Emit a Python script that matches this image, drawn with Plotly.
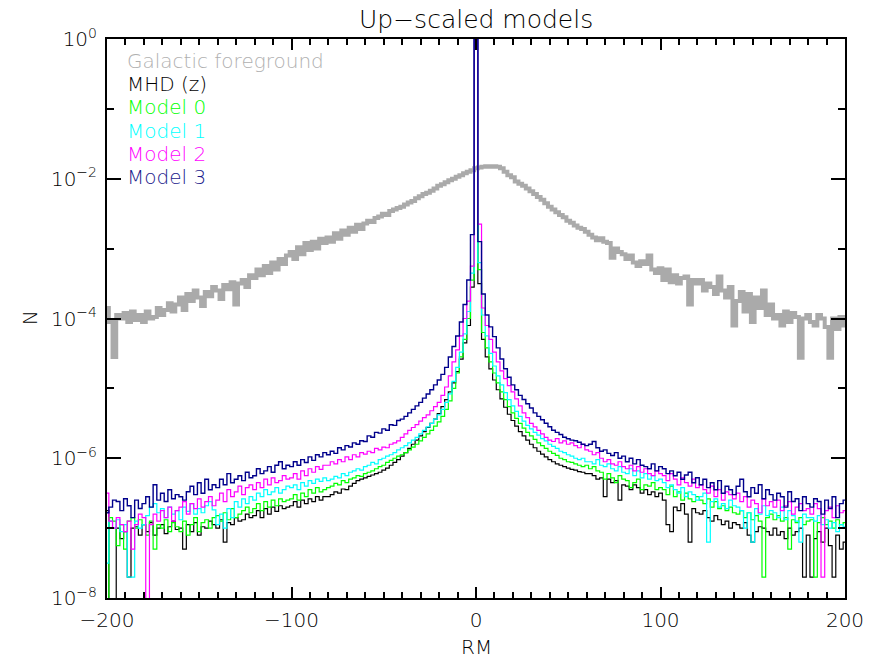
import plotly.graph_objects as go

# Histogram bin centres (RM, rad m^-2), bin width 2
rm_centres = list(range(-200, 201, 2))

# log10 of the normalised counts N in each bin
log10_n_foreground = [
    -3.85, -4.05, -4.55, -3.95, -4.0, -3.92, -4.05, -3.9, -4.02, -3.95,
    -4.05, -3.9, -4.0, -3.98, -3.85, -3.95, -3.88, -3.78, -3.9, -3.8,
    -3.7, -3.88, -3.65, -3.75, -3.6, -3.7, -3.82, -3.62, -3.68, -3.55,
    -3.6, -3.72, -3.52, -3.58, -3.48, -3.8, -3.5, -3.45, -3.55, -3.38,
    -3.42, -3.3, -3.38, -3.25, -3.35, -3.2, -3.3, -3.15, -3.22, -3.1,
    -3.05, -3.15, -2.98, -3.08, -2.92, -3.02, -2.9, -3.0, -2.86, -2.92,
    -2.84, -2.9, -2.78, -2.86, -2.74, -2.8, -2.7, -2.76, -2.66, -2.72,
    -2.64, -2.6, -2.62, -2.56, -2.54, -2.5, -2.52, -2.46, -2.44, -2.42,
    -2.4, -2.37, -2.34, -2.32, -2.28, -2.25, -2.22, -2.2, -2.17, -2.14,
    -2.1, -2.08, -2.05, -2.02, -2.0, -1.97, -1.95, -1.92, -1.9, -1.88,
    -1.85,
    -1.84, -1.83, -1.82, -1.83, -1.82, -1.83, -1.85, -1.9, -1.95, -1.98,
    -2.04, -2.07, -2.1, -2.14, -2.18, -2.22, -2.26, -2.3, -2.35, -2.4,
    -2.44, -2.48, -2.52, -2.55, -2.6, -2.63, -2.67, -2.7, -2.72, -2.76,
    -2.8, -2.84, -2.88, -2.85, -2.9, -2.92, -3.13, -3.0, -3.05, -3.08,
    -3.15, -3.1, -3.2, -3.25, -3.18, -3.22, -3.1, -3.3, -3.35, -3.28,
    -3.45, -3.3, -3.48, -3.38, -3.5, -3.42, -3.4, -3.8, -3.45, -3.5,
    -3.45, -3.6, -3.5, -3.55, -3.65, -3.4, -3.6, -3.7, -3.55, -4.1,
    -3.75, -3.62, -3.9, -3.65, -4.05, -3.7, -3.85, -3.6, -3.95, -3.8,
    -4.0, -3.95, -4.1, -3.9, -4.05, -3.92, -3.98, -4.56, -4.0, -3.95,
    -4.05, -4.1, -3.95, -4.0, -4.12, -4.56, -4.0, -4.15, -3.98, -4.1,
]

log10_n_mhd = [
    -6.75, -8.5, -8.5, -7.0, -7.15, -7.05, -7.7, -7.0, -6.98, -7.1,
    -6.95, -7.05, -6.92, -7.1, -7.0, -6.95, -7.08, -6.98, -6.9, -7.02,
    -7.0, -7.3, -6.95, -7.05, -6.92, -7.1, -6.98, -7.0, -6.9, -6.95,
    -7.0, -6.88, -7.2, -6.92, -6.95, -6.85, -6.9, -6.88, -6.8, -6.85,
    -6.82, -6.75, -6.85, -6.72, -6.8, -6.7, -6.76, -6.68, -6.72, -6.7,
    -6.68, -6.62, -6.7, -6.6, -6.65, -6.58, -6.62, -6.55, -6.6, -6.55,
    -6.55, -6.52, -6.48, -6.5, -6.44, -6.45, -6.4, -6.36, -6.32, -6.3,
    -6.28, -6.26, -6.24, -6.22, -6.2, -6.17, -6.14, -6.1, -6.06, -6.02,
    -5.97, -5.92, -5.86, -5.8, -5.74, -5.68, -5.62, -5.56, -5.5, -5.44,
    -5.36, -5.26, -5.16, -5.05, -4.92, -4.76, -4.58, -4.35, -4.1, -3.55,
    -0.01,
    -3.5, -4.3, -4.55, -4.72, -4.88, -5.02, -5.15, -5.27, -5.37, -5.46,
    -5.54, -5.62, -5.68, -5.74, -5.8, -5.85, -5.9, -5.94, -5.98, -6.02,
    -6.05, -6.08, -6.1, -6.12, -6.14, -6.16, -6.17, -6.19, -6.2, -6.22,
    -6.22, -6.25, -6.3, -6.28, -6.55, -6.3, -6.35, -6.32, -6.6, -6.38,
    -6.4, -6.45, -6.38, -6.42, -6.5, -6.45, -6.52, -6.48, -6.55, -6.5,
    -6.6, -6.95, -7.05, -6.7, -6.75, -6.65, -6.8, -7.2, -6.72, -6.78,
    -6.8, -6.75, -6.85, -6.9, -6.82, -6.88, -6.95, -6.9, -7.0, -6.92,
    -6.95, -7.0, -6.92, -7.1, -7.2, -7.05, -6.98, -7.0, -7.05, -7.1,
    -7.0, -7.1, -7.05, -7.15, -7.0, -7.1, -7.05, -7.0, -7.7, -7.1,
    -7.7, -7.15, -7.05, -7.2, -7.0, -7.25, -7.7, -7.1, -7.3, -7.2,
]

log10_n_model0 = [
    -8.5, -6.85, -6.9, -7.25, -6.95, -7.3, -6.9, -6.85, -7.0, -6.88,
    -6.95, -7.1, -6.9, -7.3, -6.95, -7.0, -6.88, -7.05, -6.92, -6.98,
    -7.05, -6.9, -7.1, -6.95, -6.85, -7.05, -6.92, -6.88, -7.0, -6.85,
    -6.82, -6.9, -6.78, -6.88, -6.72, -6.85, -6.8, -6.75, -6.7, -6.78,
    -6.72, -6.65, -6.75, -6.62, -6.7, -6.6, -6.68, -6.58, -6.62, -6.6,
    -6.58, -6.52, -6.6, -6.5, -6.55, -6.45, -6.5, -6.42, -6.48, -6.45,
    -6.42, -6.4, -6.36, -6.38, -6.32, -6.35, -6.3, -6.28, -6.25, -6.26,
    -6.22, -6.2, -6.18, -6.15, -6.12, -6.1, -6.06, -6.03, -6.0, -5.97,
    -5.95, -5.92, -5.88, -5.84, -5.8, -5.75, -5.7, -5.65, -5.6, -5.54,
    -5.48, -5.4, -5.3, -5.18, -5.0, -4.78, -4.55, -4.3, -4.0, -3.45,
    -0.01,
    -3.3, -4.2, -4.42, -4.62, -4.78, -4.92, -5.05, -5.16, -5.26, -5.35,
    -5.43, -5.5, -5.57, -5.63, -5.68, -5.73, -5.78, -5.82, -5.86, -5.9,
    -5.93, -5.96, -6.0, -6.02, -6.05, -6.06, -6.08, -6.1, -6.12, -6.1,
    -6.15, -6.12, -6.18, -6.2, -6.3, -6.22, -6.28, -6.35, -6.25, -6.3,
    -6.32, -6.42, -6.35, -6.3, -6.45, -6.38, -6.4, -6.35, -6.45, -6.42,
    -6.45, -6.52, -6.4, -6.55, -6.48, -6.6, -6.5, -6.58, -6.62, -6.55,
    -6.6, -6.65, -6.58, -6.7, -6.62, -6.72, -6.68, -6.75, -6.7, -6.78,
    -6.8, -6.75, -6.85, -6.78, -6.88, -6.82, -6.9, -7.7, -6.85, -6.8,
    -6.88, -6.82, -6.9, -6.85, -7.3, -6.88, -6.92, -6.85, -6.95, -6.9,
    -6.88, -7.7, -6.92, -6.85, -6.95, -6.9, -7.0, -6.88, -6.95, -6.92,
]

log10_n_model1 = [
    -7.5, -6.9, -7.0, -6.88, -7.05, -6.95, -7.7, -7.7, -6.9, -7.0,
    -6.95, -6.82, -6.7, -6.65, -6.78, -6.72, -6.85, -6.7, -6.8, -6.75,
    -6.88, -6.7, -6.76, -6.65, -6.8, -6.72, -6.78, -6.68, -6.62, -6.74,
    -6.95, -6.8, -7.0, -6.72, -6.85, -6.62, -6.7, -6.58, -6.65, -6.55,
    -6.6, -6.5, -6.55, -6.45, -6.52, -6.48, -6.42, -6.5, -6.45, -6.4,
    -6.42, -6.38, -6.45, -6.35, -6.4, -6.32, -6.36, -6.3, -6.33, -6.28,
    -6.32, -6.3, -6.26, -6.28, -6.22, -6.25, -6.2, -6.18, -6.15, -6.17,
    -6.12, -6.1, -6.06, -6.08, -6.02, -6.0, -5.97, -5.95, -5.92, -5.88,
    -5.85, -5.82, -5.78, -5.74, -5.7, -5.65, -5.6, -5.55, -5.5, -5.44,
    -5.38, -5.3, -5.2, -5.08, -4.9, -4.7, -4.48, -4.22, -3.9, -3.35,
    -0.01,
    -3.2, -3.95, -4.25, -4.5, -4.68, -4.82, -4.95, -5.06, -5.16, -5.25,
    -5.33, -5.4, -5.47, -5.53, -5.58, -5.63, -5.67, -5.72, -5.75, -5.8,
    -5.83, -5.86, -5.9, -5.92, -5.95, -5.97, -6.0, -6.02, -6.0, -6.05,
    -6.05, -6.08, -6.02, -6.1, -6.12, -6.08, -6.15, -6.18, -6.12, -6.2,
    -6.22, -6.15, -6.25, -6.18, -6.28, -6.22, -6.3, -6.25, -6.32, -6.3,
    -6.35, -6.42, -6.38, -6.45, -6.5, -6.42, -6.55, -6.48, -6.52, -6.6,
    -6.55, -6.5, -7.2, -6.62, -6.58, -6.7, -6.65, -6.72, -6.6, -6.68,
    -6.7, -6.75, -7.0, -6.78, -7.2, -6.72, -6.8, -6.68, -6.82, -6.75,
    -6.78, -6.85, -6.7, -6.88, -6.75, -6.82, -6.9, -7.2, -6.8, -6.85,
    -6.85, -6.9, -6.82, -6.95, -6.88, -7.0, -6.92, -7.05, -6.95, -6.98,
]

log10_n_model2 = [
    -6.5, -6.9, -7.0, -6.85, -6.95, -7.05, -6.9, -7.3, -6.95, -6.8,
    -6.85, -8.5, -6.95, -6.8, -6.9, -6.75, -6.85, -6.7, -6.9, -6.75,
    -6.7, -6.62, -6.8, -6.65, -6.72, -6.58, -6.7, -6.62, -6.55, -6.68,
    -6.6, -6.5, -6.62, -6.45, -6.55, -6.48, -6.4, -6.52, -6.42, -6.38,
    -6.45, -6.35, -6.42, -6.3, -6.38, -6.28, -6.35, -6.32, -6.25, -6.3,
    -6.28, -6.22, -6.3, -6.18, -6.25, -6.15, -6.2, -6.12, -6.16, -6.1,
    -6.1, -6.05, -6.08, -6.02, -6.05, -5.98, -6.02, -5.95, -5.98, -5.92,
    -5.94, -5.9, -5.92, -5.86, -5.88, -5.84, -5.85, -5.8, -5.78, -5.75,
    -5.7, -5.65, -5.6, -5.56, -5.52, -5.47, -5.42, -5.38, -5.32, -5.26,
    -5.2, -5.1, -4.98, -4.82, -4.62, -4.45, -4.25, -4.0, -3.75, -3.25,
    -0.01,
    -2.65, -3.85, -4.1, -4.3, -4.48, -4.62, -4.75, -4.86, -4.96, -5.05,
    -5.15, -5.25, -5.35, -5.42, -5.5, -5.55, -5.6, -5.65, -5.7, -5.74,
    -5.76, -5.72, -5.78, -5.75, -5.8, -5.78, -5.82, -5.85, -5.8, -5.88,
    -5.9, -5.95, -5.92, -6.0, -6.05, -6.02, -6.08, -6.1, -6.05, -6.12,
    -6.15, -6.1, -6.18, -6.12, -6.2, -6.15, -6.22, -6.25, -6.18, -6.22,
    -6.25, -6.32, -6.22, -6.3, -6.38, -6.28, -6.35, -6.4, -6.3, -6.42,
    -6.38, -6.45, -6.5, -6.4, -6.55, -6.45, -6.6, -6.48, -6.52, -6.58,
    -6.5, -6.62, -6.55, -6.7, -6.6, -6.65, -6.78, -6.58, -6.68, -6.62,
    -6.7, -6.6, -6.75, -6.68, -6.62, -6.8, -6.7, -6.65, -6.75, -6.72,
    -6.8, -6.65, -6.72, -7.7, -6.75, -6.7, -6.85, -6.68, -6.78, -6.75,
]

log10_n_model3 = [
    -6.78, -6.7, -6.6, -6.62, -6.75, -6.58, -6.68, -6.85, -6.6, -6.72,
    -6.65, -6.55, -6.7, -6.38, -6.6, -6.5, -6.62, -6.45, -6.58, -6.52,
    -6.55, -6.6, -6.48, -6.4, -6.52, -6.35, -6.5, -6.3, -6.45, -6.38,
    -6.42, -6.3, -6.38, -6.22, -6.35, -6.3, -6.25, -6.32, -6.2, -6.28,
    -6.25, -6.15, -6.22, -6.18, -6.12, -6.2, -6.1, -6.05, -6.15, -6.1,
    -6.12, -6.05, -6.1, -6.02, -6.06, -5.98, -6.03, -5.95, -5.98, -5.92,
    -5.95, -5.9, -5.93, -5.85, -5.88, -5.82, -5.84, -5.78, -5.8, -5.75,
    -5.76, -5.68, -5.7, -5.63, -5.64, -5.58, -5.6, -5.52, -5.53, -5.46,
    -5.44, -5.4, -5.35, -5.3, -5.25, -5.2, -5.14, -5.08, -5.02, -4.95,
    -4.88, -4.8, -4.7, -4.55, -4.4, -4.25, -4.05, -3.8, -3.45, -2.8,
    0.0,
    -2.9, -3.65, -3.95, -4.12, -4.26, -4.42, -4.58, -4.72, -4.84, -4.95,
    -5.02, -5.1, -5.16, -5.22, -5.28, -5.35, -5.4, -5.45, -5.5, -5.55,
    -5.6, -5.63, -5.66, -5.7, -5.72, -5.74, -5.75, -5.77, -5.8, -5.82,
    -5.8, -5.76, -5.85, -5.9, -5.88, -5.93, -5.96, -5.92, -6.0, -5.97,
    -6.05, -6.0, -6.08, -6.02, -6.1, -6.12, -6.15, -6.08, -6.18, -6.12,
    -6.15, -6.22, -6.18, -6.25, -6.2, -6.3, -6.24, -6.2, -6.35, -6.28,
    -6.38, -6.3, -6.42, -6.35, -6.45, -6.32, -6.5, -6.4, -6.45, -6.52,
    -6.4, -6.3, -6.48, -6.55, -6.42, -6.5, -6.38, -6.58, -6.45, -6.52,
    -6.6, -6.5, -6.55, -6.7, -6.48, -6.62, -6.58, -6.75, -6.55, -6.65,
    -6.7, -6.58, -6.62, -6.8, -6.6, -6.72, -6.55, -6.85, -6.65, -6.6,
]

series_names = ["Galactic foreground", "MHD (z)", "Model 0", "Model 1", "Model 2", "Model 3"]
series_logs = [log10_n_foreground, log10_n_mhd, log10_n_model0,
               log10_n_model1, log10_n_model2, log10_n_model3]
series_colours = ["#aaaaaa", "#000000", "#00ff00", "#00ffff", "#ff00ff", "#00008c"]
series_widths = [4, 1.2, 1.2, 1.2, 1.2, 1.4]

y_tick_vals = [1e-8, 1e-6, 1e-4, 1e-2, 1e0]
y_tick_text = ["10<sup>\u22128</sup>", "10<sup>\u22126</sup>", "10<sup>\u22124</sup>",
               "10<sup>\u22122</sup>", "10<sup>0</sup>"]
y_minor_vals = [1e-7, 1e-5, 1e-3, 1e-1]

FONT = "DejaVu Sans"
WEIGHT = 200

fig = go.Figure()
for name, logs, colour, width in zip(series_names, series_logs, series_colours, series_widths):
    fig.add_trace(go.Scatter(
        x=rm_centres,
        y=[10 ** v for v in logs],
        mode="lines",
        line=dict(color=colour, width=width, shape="hvh"),
        name=name,
        showlegend=False,
    ))

axis_common = dict(
    showline=True, linecolor="black", linewidth=2, mirror="ticks",
    ticks="inside", tickcolor="black", tickwidth=1.5,
    showgrid=False, zeroline=False,
    tickfont=dict(family=FONT, size=20, color="black", weight=WEIGHT),
)

fig.update_xaxes(
    range=[-200, 200], tick0=0, dtick=100, ticklen=11,
    ticklabelstandoff=3,
    minor=dict(dtick=10, ticklen=6, ticks="inside", tickcolor="black", tickwidth=1.5),
    **axis_common,
)
fig.update_yaxes(
    type="log", range=[-8, 0], tickmode="array",
    tickvals=y_tick_vals, ticktext=y_tick_text, ticklen=14,
    ticklabelstandoff=4,
    minor=dict(tickmode="array", tickvals=y_minor_vals, ticklen=7,
               ticks="inside", tickcolor="black", tickwidth=1.5),
    **axis_common,
)

annotations = [
    dict(text="Up\u2212scaled models", x=0.5, y=1.034, xref="paper", yref="paper",
         xanchor="center", yanchor="middle", showarrow=False,
         font=dict(family=FONT, size=25, color="black", weight=WEIGHT)),
    dict(text="RM", x=0.5, y=-0.0877, xref="paper", yref="paper",
         xanchor="center", yanchor="middle", showarrow=False,
         font=dict(family=FONT, size=20, color="black", weight=WEIGHT)),
    dict(text="N", x=-0.104, y=0.501, xref="paper", yref="paper", textangle=-90,
         xanchor="center", yanchor="middle", showarrow=False,
         font=dict(family=FONT, size=20, color="black", weight=WEIGHT)),
]
legend_colours = ["#b0b0b0", "#000000", "#00ff00", "#00ffff", "#ff00ff", "#1a1a8c"]
for k, (name, colour) in enumerate(zip(series_names, legend_colours)):
    annotations.append(dict(
        text=name, x=0.0243, y=(598 - (61 + 23.2 * k)) / 559,
        xref="paper", yref="paper", xanchor="left", yanchor="middle",
        showarrow=False, font=dict(family=FONT, size=20, color=colour, weight=WEIGHT),
    ))

fig.update_layout(
    width=876, height=659,
    margin=dict(l=107, r=29, t=39, b=61),
    paper_bgcolor="white", plot_bgcolor="white",
    annotations=annotations,
)

fig.write_html("out.html")
